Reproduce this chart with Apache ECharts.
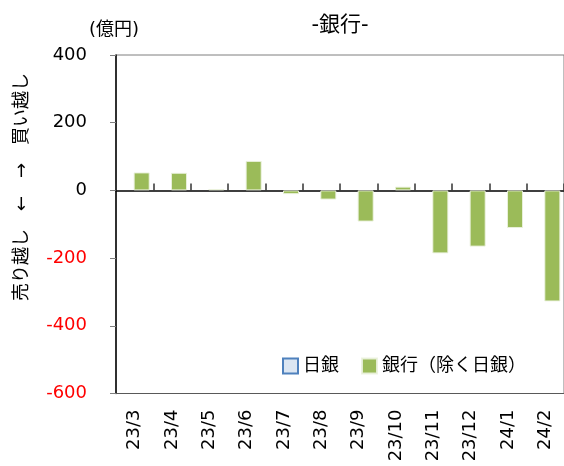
<!DOCTYPE html>
<html>
<head>
<meta charset="utf-8">
<script src="https://cdn.jsdelivr.net/npm/echarts@6/dist/echarts.min.js"></script>
<style>html,body{margin:0;padding:0;background:#fff;}#main{width:564px;height:466px;}</style>
</head>
<body>
<div id="main"></div>
<script>
const categories = ['23/3','23/4','23/5','23/6','23/7','23/8','23/9','23/10','23/11','23/12','24/1','24/2'];
const bojValues = [null,null,null,null,null,null,null,null,null,null,null,null];
const bankValues = [53,52,4,87,-11,-27,-92,11,-186,-166,-111,-328];
const yTicks = [-600,-400,-200,0,200,400];
const seriesNames = ['日銀','銀行（除く日銀）'];

const FONT = '"DejaVu Sans","Noto Sans CJK JP",sans-serif';
const chart = echarts.init(document.getElementById('main'), null, {renderer:'canvas'});
chart.setOption({
  animation: false,
  backgroundColor: '#fff',
  textStyle: {fontFamily: FONT},
  title: {
    text: '-銀行-', left: 335, top: 10, textAlign: 'center',
    textStyle: {fontSize: 21, fontWeight: 'normal', color: '#000', fontFamily: FONT}
  },
  legend: {
    left: 277, top: 352, itemWidth: 15, itemHeight: 15, itemGap: 22,
    icon: 'rect',
    textStyle: {fontSize: 18, color: '#000', fontFamily: FONT},
    data: seriesNames
  },
  grid: {left: 116, top: 55, width: 455, height: 338.5, show: true, borderColor: '#7f7f7f', borderWidth: 1, backgroundColor: 'transparent'},
  graphic: [
    {type: 'text', x: 22, y: 187, rotation: Math.PI/2,
     style: {text: '売り越し　←　→　買い越し', fontSize: 18, fill: '#000', align: 'center', verticalAlign: 'middle', fontFamily: FONT}},
    {type: 'text', x: 114, y: 30,
     style: {text: '(億円)', fontSize: 18, fill: '#000', align: 'center', verticalAlign: 'middle', fontFamily: FONT}}
  ],
  xAxis: [
    {type: 'category', data: categories, position: 'bottom',
     axisLine: {onZero: false, lineStyle: {color: '#595959', width: 1}},
     axisTick: {show: false},
     axisLabel: {rotate: 90, fontSize: 18, color: '#000', margin: 16, interval: 0, fontFamily: FONT},
     splitLine: {show: false}},
    {type: 'category', data: categories, position: 'top',
     axisLine: {onZero: true, lineStyle: {color: '#000', width: 1.5}},
     axisTick: {show: true, inside: false, length: 7, alignWithLabel: false, interval: 0, lineStyle: {color: '#333', width: 1.5}},
     axisLabel: {show: false},
     splitLine: {show: false}}
  ],
  yAxis: {
    type: 'value', min: -600, max: 400, interval: 200,
    axisLine: {show: true, lineStyle: {color: '#000', width: 1.5}},
    axisTick: {show: true, length: 6, lineStyle: {color: '#7f7f7f'}},
    splitLine: {show: false},
    axisLabel: {
      fontSize: 18, margin: 29, fontFamily: FONT,
      color: function (v) { return Number(v) < 0 ? '#ff0000' : '#000'; },
      formatter: function (v) { return yTicks.indexOf(v) >= 0 ? String(v) : ''; }
    }
  },
  series: [
    {name: seriesNames[0], type: 'bar', data: bojValues, barWidth: 16, barGap: '-12.5%',
     itemStyle: {color: '#dce6f2', borderColor: '#4f81bd', borderWidth: 2}},
    {name: seriesNames[1], type: 'bar', data: bankValues, barWidth: 16, barGap: '-12.5%',
     itemStyle: {color: '#9bbb59', borderColor: 'rgba(235,242,222,0.9)', borderWidth: 1}}
  ]
});
</script>
</body>
</html>
